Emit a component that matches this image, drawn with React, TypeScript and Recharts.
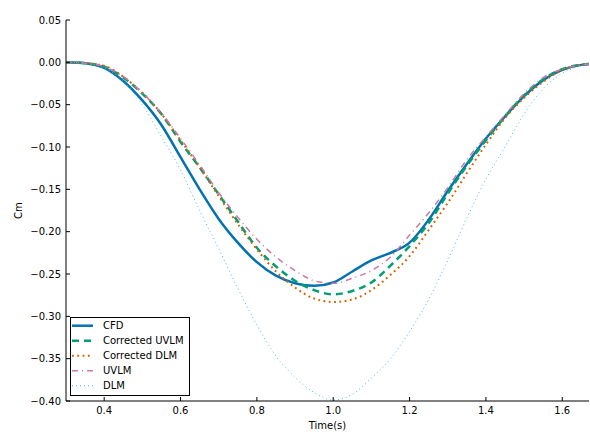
import { LineChart, Line, XAxis, YAxis, Legend } from "recharts";

const time = [
  0.3, 0.35, 0.4, 0.45, 0.5, 0.55, 0.6, 0.65, 0.7, 0.75, 0.8, 0.85, 0.9, 0.95, 1.0,
  1.05, 1.1, 1.15, 1.2, 1.25, 1.3, 1.35, 1.4, 1.45, 1.5, 1.55, 1.6, 1.65, 1.67,
];

const cfd = [
  0, -0.001, -0.0065, -0.022, -0.045, -0.074, -0.112, -0.15, -0.185, -0.213, -0.236, -0.252,
  -0.261, -0.264, -0.26, -0.247, -0.234, -0.225, -0.213, -0.186, -0.152, -0.12, -0.09, -0.064,
  -0.04, -0.021, -0.009, -0.003, -0.002,
];

const correctedUvlm = [
  0, -0.001, -0.005, -0.018, -0.037, -0.061, -0.094, -0.124, -0.156, -0.188, -0.219, -0.241,
  -0.258, -0.269, -0.274, -0.27, -0.26, -0.24, -0.217, -0.19, -0.155, -0.122, -0.092, -0.064,
  -0.039, -0.02, -0.008, -0.003, -0.002,
];

const correctedDlm = [
  0, -0.001, -0.004, -0.017, -0.036, -0.061, -0.092, -0.124, -0.158, -0.191, -0.221, -0.247,
  -0.266, -0.279, -0.283, -0.28, -0.269, -0.251, -0.229, -0.198, -0.166, -0.131, -0.097, -0.066,
  -0.042, -0.023, -0.009, -0.003, -0.002,
];

const uvlm = [
  0, -0.001, -0.005, -0.017, -0.036, -0.06, -0.09, -0.121, -0.154, -0.183, -0.209, -0.23,
  -0.246, -0.258, -0.261, -0.255, -0.246, -0.23, -0.204, -0.178, -0.148, -0.115, -0.088, -0.062,
  -0.037, -0.018, -0.008, -0.003, -0.002,
];

const dlm = [
  0, -0.001, -0.007, -0.022, -0.05, -0.088, -0.127, -0.175, -0.22, -0.267, -0.31, -0.347,
  -0.372, -0.39, -0.399, -0.392, -0.373, -0.35, -0.318, -0.28, -0.234, -0.184, -0.138, -0.1,
  -0.061, -0.031, -0.013, -0.004, -0.002,
];

const xTicks = [0.4, 0.6, 0.8, 1.0, 1.2, 1.4, 1.6];
const yTicks = [0.05, 0, -0.05, -0.1, -0.15, -0.2, -0.25, -0.3, -0.35, -0.4];

const series = [
  { key: "cfd", name: "CFD", color: "#0072B2", width: 2.5, dash: undefined },
  { key: "cuvlm", name: "Corrected UVLM", color: "#009E73", width: 2.5, dash: "7 5" },
  { key: "cdlm", name: "Corrected DLM", color: "#D55E00", width: 2, dash: "1.8 3.5" },
  { key: "uvlm", name: "UVLM", color: "#CC79A7", width: 1.5, dash: "6 4 1 4" },
  { key: "dlm", name: "DLM", color: "#56B4E9", width: 1, dash: "1 3" },
];

const data = time.map((t, i) => ({
  t,
  cfd: cfd[i],
  cuvlm: correctedUvlm[i],
  cdlm: correctedDlm[i],
  uvlm: uvlm[i],
  dlm: dlm[i],
}));

const FONT = "'DejaVu Sans', sans-serif";
const TICK = 4;
const xDomain = [0.3, 1.67];
const yDomain = [-0.4, 0.05];

const fmtY = (v: number) => (v < 0 ? "\u2212" + Math.abs(v).toFixed(2) : v.toFixed(2));

function BottomTick({ x, y, payload }: any) {
  return (
    <g>
      <line x1={x} x2={x} y1={y} y2={y - TICK} stroke="#000" />
      <text x={x} y={y + 13} textAnchor="middle" fontSize={10} fontFamily={FONT} fill="#000">
        {payload.value.toFixed(1)}
      </text>
    </g>
  );
}

function TopTick({ x, y }: any) {
  return <line x1={x} x2={x} y1={y} y2={y + TICK} stroke="#000" />;
}

function LeftTick({ x, y, payload }: any) {
  return (
    <g>
      <line x1={x} x2={x + TICK} y1={y} y2={y} stroke="#000" />
      <text x={x - 5} y={y} dy="0.36em" textAnchor="end" fontSize={10} fontFamily={FONT} fill="#000">
        {fmtY(payload.value)}
      </text>
    </g>
  );
}

function RightTick({ x, y }: any) {
  return <line x1={x} x2={x - TICK} y1={y} y2={y} stroke="#000" />;
}

function CmLabel({ viewBox }: any) {
  const cy = viewBox.y + viewBox.height / 2;
  return (
    <text
      x={18}
      y={cy}
      dy="0.36em"
      transform={`rotate(-90 18 ${cy})`}
      textAnchor="middle"
      fontSize={10}
      fontFamily={FONT}
      fill="#000"
    >
      Cm
    </text>
  );
}

function LegendBox() {
  return (
    <div
      style={{
        boxSizing: "border-box",
        width: 120,
        height: 79,
        border: "1px solid #000",
        background: "#fff",
      }}
    >
      <svg width={118} height={77} style={{ display: "block" }}>
        {series.map((s, i) => {
          const cy = 7.7 + 15 * i;
          return (
            <g key={s.key}>
              <line
                x1={1}
                x2={22}
                y1={cy}
                y2={cy}
                stroke={s.color}
                strokeWidth={s.width}
                strokeDasharray={s.dash}
              />
              <text x={32} y={cy} dy="0.36em" fontSize={10} fontFamily={FONT} fill="#000">
                {s.name}
              </text>
            </g>
          );
        })}
      </svg>
    </div>
  );
}

export default function App() {
  return (
    <div style={{ position: "absolute", left: 0, top: 0, background: "#fff" }}>
      <LineChart width={590} height={432} data={data} margin={{ top: 20, right: 1, bottom: 0, left: 0 }}>
        <XAxis
          dataKey="t"
          type="number"
          domain={xDomain}
          ticks={xTicks}
          interval={0}
          allowDataOverflow
          height={31}
          tickSize={0}
          tickMargin={0}
          tickLine={false}
          axisLine={{ stroke: "#000" }}
          tick={(p: any) => <BottomTick {...p} />}
          label={{ value: "Time(s)", position: "insideBottom", offset: 3, fill: "#000", fontSize: 10, fontFamily: FONT }}
        />
        <XAxis
          xAxisId="top"
          dataKey="t"
          orientation="top"
          type="number"
          domain={xDomain}
          ticks={xTicks}
          interval={0}
          allowDataOverflow
          height={0}
          tickSize={0}
          tickMargin={0}
          tickLine={false}
          axisLine={{ stroke: "#000" }}
          tick={(p: any) => <TopTick {...p} />}
        />
        <YAxis
          type="number"
          domain={yDomain}
          ticks={yTicks}
          interval={0}
          allowDataOverflow
          width={66}
          tickSize={0}
          tickMargin={0}
          tickLine={false}
          axisLine={{ stroke: "#000" }}
          tick={(p: any) => <LeftTick {...p} />}
          label={<CmLabel />}
        />
        <YAxis
          yAxisId="right"
          orientation="right"
          type="number"
          domain={yDomain}
          ticks={yTicks}
          interval={0}
          allowDataOverflow
          width={0}
          tickSize={0}
          tickMargin={0}
          tickLine={false}
          axisLine={{ stroke: "#000" }}
          tick={(p: any) => <RightTick {...p} />}
        />
        {series.map((s) => (
          <Line
            key={s.key}
            dataKey={s.key}
            name={s.name}
            type="monotone"
            stroke={s.color}
            strokeWidth={s.width}
            strokeDasharray={s.dash}
            dot={false}
            activeDot={false}
            isAnimationActive={false}
          />
        ))}
        <Legend
          layout="vertical"
          align="center"
          verticalAlign="middle"
          wrapperStyle={{ left: 70, top: 317, width: 120, height: 79 }}
          content={() => <LegendBox />}
        />
      </LineChart>
    </div>
  );
}
